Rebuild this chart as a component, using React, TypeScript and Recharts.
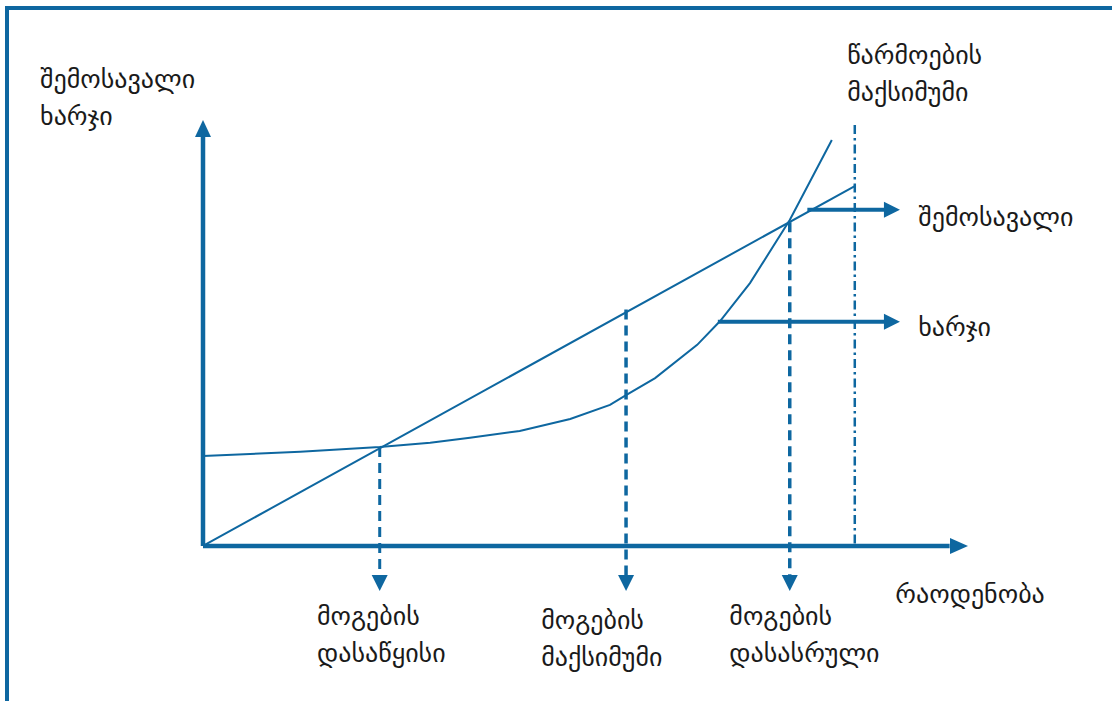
import React from 'react';
import { ComposedChart, Line, XAxis, YAxis, ReferenceDot } from 'recharts';

const BLUE = '#0e67a0';
const TEXT = '#1a1a1a';
const FONT = '"DejaVu Sans", sans-serif';

// Revenue (straight line) and cost (curve): quantity -> value
const revenueQ = [0, 85.2];
const revenueV = [0, 84.5];
const costQ = [0, 12.7, 23.1, 29.7, 34.9, 41.4, 48.0, 53.2, 55.3, 59.1, 64.6, 67.6, 71.5, 76.7, 82.2];
const costV = [21.1, 22.1, 23.2, 24.2, 25.4, 27.0, 29.8, 33.1, 35.4, 39.4, 47.2, 52.8, 61.7, 76.5, 95.3];

// Profit guides (vertical dashed arrows)
const guideQ = [23.1, 55.3, 76.7];
const guideTop = [23.2, 55.5, 76.0];
const guideArrowTip = -10.6;
const guideArrowBase = -7.0;

// Production maximum (dash-dot)
const prodMaxQ = 85.2;
const prodMaxTop = 98.8;

// Series pointer arrows (horizontal)
const pointerV = [78.9, 52.6];
const pointerStart = [79.0, 67.3];
const pointerTip = 91.1;
const pointerBase = 89.2;

// Axes
const axisEnd = 100;
const xAxisBase = 97.6;
const yAxisBase = 96.3;

// Labels
const yTitle = ['შემოსავალი', 'ხარჯი'];
const xTitle = 'რაოდენობა';
const prodMaxLabel = ['წარმოების', 'მაქსიმუმი'];
const pointerLabels = ['შემოსავალი', 'ხარჯი'];
const guideLabels = [
  ['მოგების', 'დასაწყისი'],
  ['მოგების', 'მაქსიმუმი'],
  ['მოგების', 'დასასრული'],
];
const guideLabelQ = [14.9, 44.2, 68.8];
const guideLabelV = [-18.5, -19.6, -18.5];

const pts = (xs: number[], ys: number[]) => xs.map((x, i) => ({ x, y: ys[i] }));

const arrowHead = (dir: 'up' | 'down' | 'right', len: number, half: number) => (props: any) => {
  const { cx, cy } = props;
  if (cx == null || cy == null) return <g />;
  let p = '';
  if (dir === 'down') p = `${cx},${cy} ${cx - half},${cy - len} ${cx + half},${cy - len}`;
  if (dir === 'up') p = `${cx},${cy} ${cx - half},${cy + len} ${cx + half},${cy + len}`;
  if (dir === 'right') p = `${cx},${cy} ${cx - len},${cy - half} ${cx - len},${cy + half}`;
  return <polygon points={p} fill={BLUE} stroke="none" />;
};

const label = (lines: string[]) => (props: any) => {
  const { cx, cy } = props;
  if (cx == null || cy == null) return <g />;
  return (
    <text x={cx} y={cy} fill={TEXT} fontSize={26} fontFamily={FONT}>
      {lines.map((l, i) => (
        <tspan key={i} x={cx} dy={i === 0 ? 0 : 37}>
          {l}
        </tspan>
      ))}
    </text>
  );
};

export default function App() {
  return (
    <div style={{ position: 'absolute', left: 0, top: 0, width: 1112, height: 701, background: '#fff' }}>
      <div
        style={{
          position: 'absolute',
          left: 5,
          top: 6,
          width: 1107,
          height: 695,
          borderTop: `4px solid ${BLUE}`,
          borderLeft: `4px solid ${BLUE}`,
          boxSizing: 'border-box',
        }}
      />
      <div style={{ position: 'absolute', left: 0, top: 0 }}>
        <ComposedChart width={1112} height={701} margin={{ top: 120, right: 144, bottom: 104, left: 203 }}>
          <XAxis type="number" dataKey="x" domain={[0, 100]} hide />
          <YAxis type="number" dataKey="y" domain={[-12, 100]} hide />

          {/* axes */}
          <Line data={pts([0, xAxisBase], [0, 0])} dataKey="y" stroke={BLUE} strokeWidth={4.5} dot={false} activeDot={false} isAnimationActive={false} />
          <Line data={pts([0, 0], [0, yAxisBase])} dataKey="y" stroke={BLUE} strokeWidth={4.5} dot={false} activeDot={false} isAnimationActive={false} />
          <ReferenceDot x={axisEnd} y={0} ifOverflow="visible" shape={arrowHead('right', 18, 8)} />
          <ReferenceDot x={0} y={axisEnd} ifOverflow="visible" shape={arrowHead('up', 17, 8)} />

          {/* production maximum */}
          <Line data={pts([prodMaxQ, prodMaxQ], [prodMaxTop, 0])} dataKey="y" stroke={BLUE} strokeWidth={2.5} strokeDasharray="9 4 2.5 4" dot={false} activeDot={false} isAnimationActive={false} />

          {/* revenue & cost */}
          <Line data={pts(revenueQ, revenueV)} dataKey="y" stroke={BLUE} strokeWidth={2} dot={false} activeDot={false} isAnimationActive={false} />
          <Line data={pts(costQ, costV)} dataKey="y" stroke={BLUE} strokeWidth={2} dot={false} activeDot={false} isAnimationActive={false} />

          {/* profit guides */}
          {guideQ.map((q, i) => (
            <Line
              key={`g${i}`}
              data={pts([q, q], [guideTop[i], guideArrowBase])}
              dataKey="y"
              stroke={BLUE}
              strokeWidth={i === 0 ? 3 : 3.5}
              strokeDasharray="10 6"
              dot={false}
              activeDot={false}
              isAnimationActive={false}
            />
          ))}
          {guideQ.map((q, i) => (
            <ReferenceDot key={`ga${i}`} x={q} y={guideArrowTip} ifOverflow="visible" shape={arrowHead('down', 16, 8)} />
          ))}

          {/* pointer arrows */}
          {pointerV.map((v, i) => (
            <Line
              key={`p${i}`}
              data={pts([pointerStart[i], pointerBase], [v, v])}
              dataKey="y"
              stroke={BLUE}
              strokeWidth={4}
              dot={false}
              activeDot={false}
              isAnimationActive={false}
            />
          ))}
          {pointerV.map((v, i) => (
            <ReferenceDot key={`pa${i}`} x={pointerTip} y={v} ifOverflow="visible" shape={arrowHead('right', 16, 8)} />
          ))}

          {/* labels */}
          <ReferenceDot x={-21.3} y={107.5} ifOverflow="visible" shape={label(yTitle)} />
          <ReferenceDot x={84.2} y={113.1} ifOverflow="visible" shape={label(prodMaxLabel)} />
          <ReferenceDot x={93.5} y={75.1} ifOverflow="visible" shape={label([pointerLabels[0]])} />
          <ReferenceDot x={93.5} y={49.3} ifOverflow="visible" shape={label([pointerLabels[1]])} />
          <ReferenceDot x={90.5} y={-13.4} ifOverflow="visible" shape={label([xTitle])} />
          {guideLabels.map((l, i) => (
            <ReferenceDot key={`gl${i}`} x={guideLabelQ[i]} y={guideLabelV[i]} ifOverflow="visible" shape={label(l)} />
          ))}
        </ComposedChart>
      </div>
    </div>
  );
}
